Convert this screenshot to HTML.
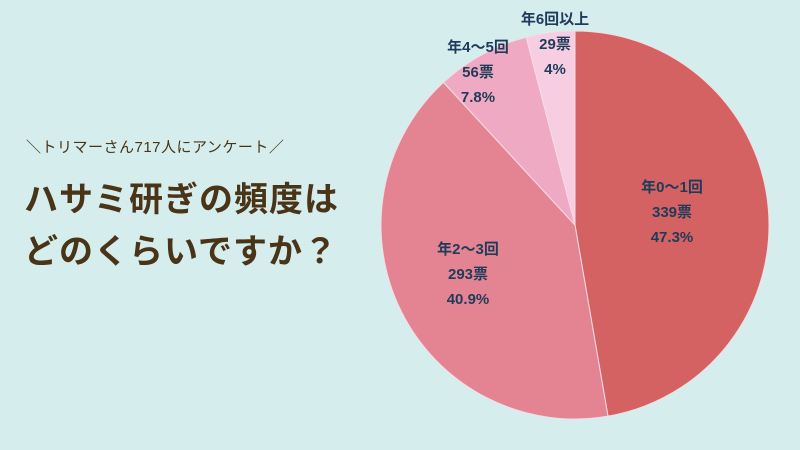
<!DOCTYPE html>
<html><head><meta charset="utf-8"><style>
html,body{margin:0;padding:0}
body{width:800px;height:450px;background:#d5eeed;position:relative;overflow:hidden;font-family:"Liberation Sans","Noto Sans CJK JP",sans-serif}
.t{position:absolute;color:#4a3418;white-space:nowrap}
</style></head><body>
<div class="t" style="left:26px;top:136px;font-size:15px;letter-spacing:0.5px">＼トリマーさん717人にアンケート／</div>
<div class="t" style="left:24px;top:172px;font-size:34px;font-weight:bold;letter-spacing:1px">ハサミ研ぎの頻度は</div>
<div class="t" style="left:24px;top:224px;font-size:34px;font-weight:bold;letter-spacing:1px">どのくらいですか？</div>
<svg id="pie" width="800" height="450" style="position:absolute;left:0;top:0"></svg>
<script>
const categories=["年0〜1回","年2〜3回","年4〜5回","年6回以上"];
const votes=[339,293,56,29];
const percents=["47.3%","40.9%","7.8%","4%"];
const colors=["#d46263","#e48492","#f0a9c2","#f7cde2"];
const labelPos=[[672,192],[468,254],[478,52],[555,24]];
const svg=document.getElementById('pie');
const NS='http://www.w3.org/2000/svg';
const cx=575,cy=225,r=194;
const total=votes.reduce((a,b)=>a+b,0);
let a0=0;
function pt(a){return [cx+r*Math.sin(a),cy-r*Math.cos(a)];}
votes.forEach((v,i)=>{
  const a1=a0+v/total*Math.PI*2;
  const p0=pt(a0),p1=pt(a1);
  const path=document.createElementNS(NS,'path');
  path.setAttribute('d',`M${cx},${cy}L${p0[0]},${p0[1]}A${r},${r} 0 ${a1-a0>Math.PI?1:0} 1 ${p1[0]},${p1[1]}Z`);
  path.setAttribute('fill',colors[i]);
  path.setAttribute('stroke','#f3dde3');
  path.setAttribute('stroke-width','1');
  
  
  svg.appendChild(path);
  a0=a1;
});
votes.forEach((v,i)=>{
  const lines=[categories[i],v+'票',percents[i]];
  lines.forEach((s,j)=>{
    const t=document.createElementNS(NS,'text');
    t.setAttribute('x',labelPos[i][0]);
    t.setAttribute('y',labelPos[i][1]+j*25);
    t.setAttribute('text-anchor','middle');
    t.setAttribute('font-size','15');
    t.setAttribute('font-weight','bold');
    t.setAttribute('fill','#1f3b5a');
    t.setAttribute('font-family','"Liberation Sans","Noto Sans CJK JP",sans-serif');
    
    
    t.textContent=s;
    svg.appendChild(t);
  });
});
</script>
</body></html>
